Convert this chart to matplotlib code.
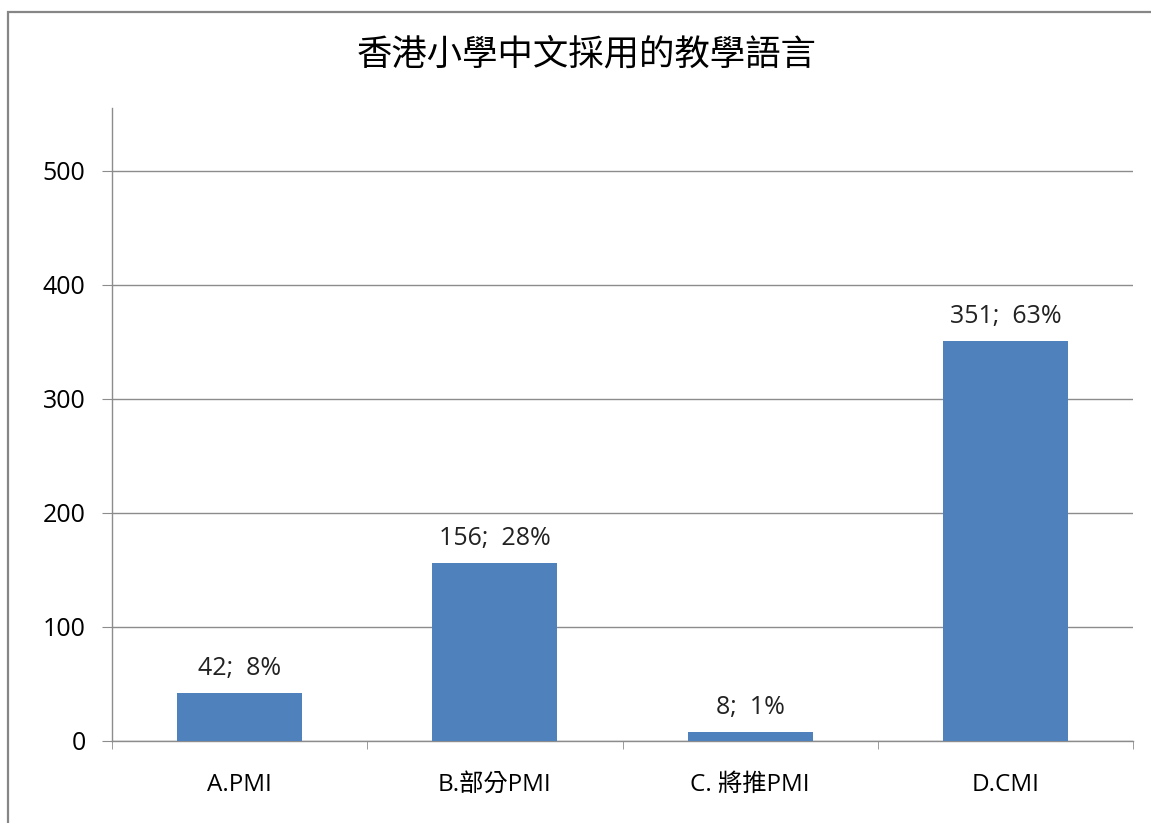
import matplotlib.pyplot as plt
from matplotlib.patches import Rectangle

plt.rcParams['font.family'] = ['Open Sans', 'Noto Sans CJK TC', 'DejaVu Sans']

categories = ['A.PMI', 'B.部分PMI', 'C. 將推PMI', 'D.CMI']
counts = [42, 156, 8, 351]
percents = [8, 28, 1, 63]
title = '香港小學中文採用的教學語言'
yticks = [0, 100, 200, 300, 400, 500]

W, H = 1151, 823
fig = plt.figure(figsize=(W / 100, H / 100), dpi=100)

# chart frame (runs off the right and bottom edges like the screenshot)
fig.patches.append(Rectangle((8 / W, -0.05), 1.2, 1 - 12 / H + 0.05,
                             transform=fig.transFigure, fill=False,
                             edgecolor='#868686', linewidth=1.6))

ax = fig.add_axes([112 / W, (H - 741) / H, (1133 - 112) / W, (741 - 108) / H])

x = list(range(len(categories)))
ax.bar(x, counts, width=0.49, color='#4F81BD', zorder=3)

for xi, c, p in zip(x, counts, percents):
    ax.annotate('{};  {}%'.format(c, p), xy=(xi, c), xytext=(0, 13),
                textcoords='offset points', ha='center', va='baseline',
                fontsize=18, color='#222222')

ax.set_xlim(-0.5, len(categories) - 0.5)
ax.set_ylim(0, 555)
ax.set_yticks(yticks)
ax.set_yticklabels([str(t) for t in yticks], fontsize=18)
ax.yaxis.grid(True, color='#8c8c8c', linewidth=1)
ax.set_axisbelow(True)

ax.set_xticks(x)
ax.set_xticklabels(categories, fontsize=17.5)
ax.tick_params(axis='x', length=0, pad=23)
ax.set_xticks([i - 0.5 for i in range(len(categories) + 1)], minor=True)
ax.tick_params(axis='x', which='minor', length=6, color='#8c8c8c', direction='out')
ax.tick_params(axis='y', length=7, color='#8c8c8c', pad=12)

for s in ['top', 'right']:
    ax.spines[s].set_visible(False)
for s in ['left', 'bottom']:
    ax.spines[s].set_color('#8c8c8c')
    ax.spines[s].set_linewidth(1)

fig.text(587 / W, 1 - 55 / H, title, ha='center', va='center', fontsize=25.5,
         family=['Noto Sans CJK TC'])

fig.savefig('out.png', dpi=100)
